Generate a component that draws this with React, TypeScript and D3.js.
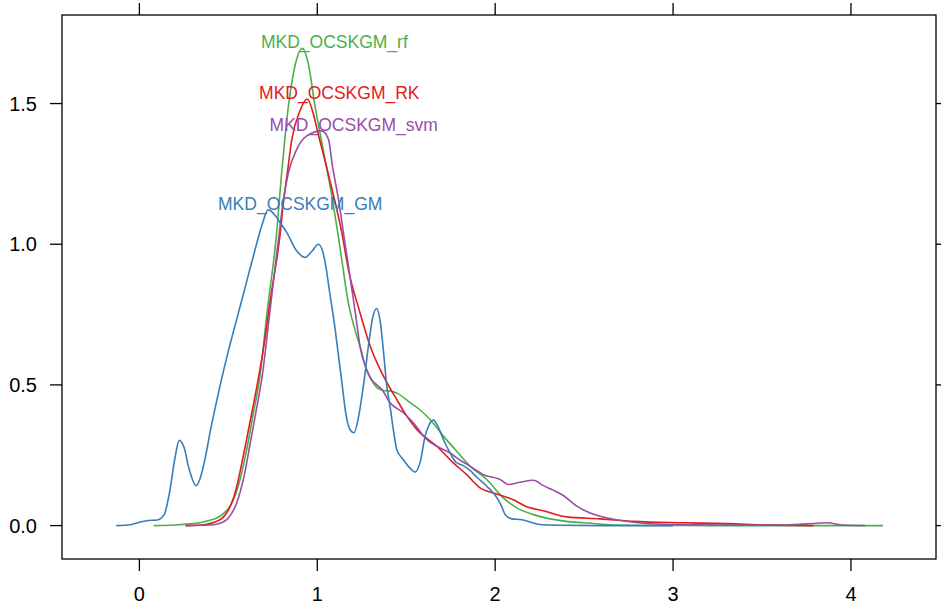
import React from "react";
import * as d3 from "d3";

// ---- data (x value, density) ----
const seriesNames = ["MKD_OCSKGM_rf", "MKD_OCSKGM_RK", "MKD_OCSKGM_svm", "MKD_OCSKGM_GM"];
const seriesColors = ["#4DAF4A", "#E41A1C", "#984EA3", "#377EB8"];

const rfPoints: [number, number][] = [
  [0.08, 0], [0.2, 0.002], [0.3, 0.007], [0.341, 0.01], [0.39, 0.018], [0.435, 0.027],
  [0.47, 0.042], [0.51, 0.069], [0.54, 0.11], [0.566, 0.164], [0.6, 0.26], [0.641, 0.4],
  [0.675, 0.519], [0.72, 0.77], [0.768, 1.017], [0.8, 1.255], [0.838, 1.492], [0.87, 1.62],
  [0.916, 1.696], [0.95, 1.64], [0.985, 1.5], [1.038, 1.32], [1.085, 1.16], [1.115, 1.041],
  [1.143, 0.922], [1.171, 0.804], [1.21, 0.7], [1.24, 0.638], [1.278, 0.55], [1.306, 0.515],
  [1.334, 0.491], [1.37, 0.48], [1.41, 0.478], [1.45, 0.47], [1.522, 0.437], [1.58, 0.41],
  [1.634, 0.377], [1.709, 0.318], [1.784, 0.264], [1.859, 0.211], [1.953, 0.164],
  [2.037, 0.104], [2.121, 0.063], [2.215, 0.039], [2.309, 0.024], [2.4, 0.015], [2.496, 0.01],
  [2.6, 0.005], [2.683, 0.002], [2.9, 0.0005], [3.2, 0], [4.18, 0],
];

const rkPoints: [number, number][] = [
  [0.26, 0], [0.35, 0.002], [0.42, 0.012], [0.472, 0.03], [0.5, 0.055], [0.53, 0.1],
  [0.555, 0.16], [0.585, 0.25], [0.61, 0.33], [0.635, 0.41], [0.665, 0.51], [0.7, 0.64],
  [0.74, 0.82], [0.772, 0.946], [0.79, 1.03], [0.81, 1.15], [0.832, 1.255], [0.857, 1.373],
  [0.9, 1.47], [0.944, 1.516], [0.975, 1.47], [1.003, 1.397], [1.05, 1.28], [1.096, 1.16],
  [1.138, 1.041], [1.175, 0.91], [1.24, 0.757], [1.297, 0.638], [1.372, 0.531], [1.447, 0.448],
  [1.503, 0.389], [1.559, 0.342], [1.672, 0.282], [1.765, 0.223], [1.84, 0.181], [1.915, 0.134],
  [1.99, 0.116], [2.102, 0.092], [2.177, 0.067], [2.271, 0.053], [2.402, 0.031], [2.59, 0.024],
  [2.777, 0.015], [3.058, 0.01], [3.302, 0.007], [3.527, 0.002], [3.79, 0],
];

const svmPoints: [number, number][] = [
  [0.26, 0], [0.35, 0.001], [0.416, 0.003], [0.46, 0.01], [0.491, 0.021], [0.515, 0.04],
  [0.547, 0.08], [0.59, 0.18], [0.625, 0.3], [0.66, 0.42], [0.69, 0.53], [0.73, 0.74],
  [0.768, 0.946], [0.782, 1.017], [0.81, 1.16], [0.838, 1.255], [0.885, 1.338], [0.941, 1.385],
  [1.025, 1.403], [1.063, 1.373], [1.085, 1.279], [1.119, 1.16], [1.147, 1.041], [1.175, 0.922],
  [1.203, 0.804], [1.222, 0.72], [1.24, 0.638], [1.278, 0.555], [1.306, 0.519], [1.335, 0.5],
  [1.363, 0.484], [1.409, 0.437], [1.484, 0.401], [1.54, 0.365], [1.615, 0.306], [1.69, 0.276],
  [1.746, 0.259], [1.784, 0.241], [1.859, 0.211], [1.934, 0.181], [2.028, 0.164], [2.074, 0.146],
  [2.14, 0.154], [2.215, 0.161], [2.271, 0.142], [2.327, 0.126], [2.383, 0.107], [2.459, 0.069],
  [2.534, 0.045], [2.646, 0.025], [2.777, 0.012], [2.965, 0.004], [3.3, 0.002], [3.62, 0.002],
  [3.75, 0.006], [3.864, 0.01], [3.958, 0.002], [4.08, 0],
];

const gmPoints: [number, number][] = [
  [-0.13, 0], [-0.05, 0.003], [0.0, 0.012], [0.05, 0.018], [0.1, 0.02], [0.14, 0.04],
  [0.17, 0.12], [0.2, 0.24], [0.224, 0.303], [0.25, 0.28], [0.28, 0.2], [0.319, 0.142],
  [0.34, 0.165], [0.37, 0.24], [0.4, 0.34], [0.43, 0.43], [0.46, 0.515], [0.5, 0.62],
  [0.55, 0.74], [0.6, 0.86], [0.65, 0.98], [0.69, 1.07], [0.724, 1.122], [0.76, 1.105],
  [0.791, 1.077], [0.828, 1.042], [0.885, 0.976], [0.931, 0.953], [0.97, 0.975], [1.006, 1.0],
  [1.03, 0.975], [1.048, 0.922], [1.067, 0.84], [1.1, 0.7], [1.12, 0.6], [1.14, 0.5],
  [1.16, 0.4], [1.185, 0.34], [1.207, 0.33], [1.23, 0.38], [1.26, 0.5], [1.29, 0.65],
  [1.31, 0.735], [1.334, 0.771], [1.355, 0.72], [1.375, 0.6], [1.39, 0.5], [1.41, 0.42],
  [1.43, 0.33], [1.447, 0.27], [1.483, 0.235], [1.52, 0.205], [1.55, 0.19], [1.58, 0.23],
  [1.606, 0.318], [1.63, 0.36], [1.653, 0.375], [1.68, 0.35], [1.709, 0.306], [1.745, 0.26],
  [1.78, 0.225], [1.82, 0.213], [1.86, 0.195], [1.9, 0.17], [1.953, 0.14], [2.009, 0.1],
  [2.035, 0.07], [2.056, 0.039], [2.093, 0.024], [2.15, 0.021], [2.2, 0.012], [2.25, 0.004],
  [2.35, 0.001], [2.6, 0], [3.0, 0],
];

const seriesPoints = [rfPoints, rkPoints, svmPoints, gmPoints];

const xTicks = [0, 1, 2, 3, 4];
const yTicks = [0.0, 0.5, 1.0, 1.5];
const xDomain: [number, number] = [-0.435, 4.478];

// ---- layout ----
const W = 941;
const H = 606;
const left = 62;
const right = 936;
const top = 15;
const bottom = 559;
const tickLen = 12;
const FONT = "'Liberation Sans', Arial, Helvetica, sans-serif";

export default function App() {
  const yMax = d3.max(seriesPoints.flat(), (p) => p[1]) as number;
  const yMin = 0;
  const pad = (yMax - yMin) * 0.07;
  const x = d3.scaleLinear().domain(xDomain).range([left, right]);
  const y = d3.scaleLinear().domain([yMin - pad, yMax + pad]).range([bottom, top]);

  const line = d3
    .line<[number, number]>()
    .x((d) => x(d[0]))
    .y((d) => y(d[1]))
    .curve(d3.curveMonotoneX);

  return (
    <svg
      width={W}
      height={H}
      style={{ position: "absolute", left: 0, top: 0, background: "#fff" }}
      fontFamily={FONT}
    >
      <rect x={0} y={0} width={W} height={H} fill="#fff" />
      {/* curves */}
      {seriesPoints.map((pts, i) => (
        <path
          key={seriesNames[i]}
          d={line(pts) || ""}
          fill="none"
          stroke={seriesColors[i]}
          strokeWidth={1.6}
          strokeLinejoin="round"
        />
      ))}
      {/* labels */}
      {seriesPoints.map((pts, i) => {
        const peak = pts.reduce((a, b) => (b[1] > a[1] ? b : a));
        return (
          <text
            key={"lab" + i}
            x={x(peak[0]) + 32}
            y={y(peak[1])}
            textAnchor="middle"
            fontSize={17.5}
            fill={seriesColors[i]}
          >
            {seriesNames[i]}
          </text>
        );
      })}
      {/* frame */}
      <rect
        x={left}
        y={top}
        width={right - left}
        height={bottom - top}
        fill="none"
        stroke="#000"
        strokeWidth={1.3}
      />
      {/* x ticks */}
      {xTicks.map((t) => (
        <g key={"xt" + t}>
          <line x1={x(t)} x2={x(t)} y1={bottom} y2={bottom + tickLen} stroke="#000" strokeWidth={1.3} />
          <line x1={x(t)} x2={x(t)} y1={top} y2={top - tickLen} stroke="#000" strokeWidth={1.3} />
          <text x={x(t)} y={601} textAnchor="middle" fontSize={20} fill="#000">
            {String(t)}
          </text>
        </g>
      ))}
      {/* y ticks */}
      {yTicks.map((t) => (
        <g key={"yt" + t}>
          <line x1={left} x2={left - tickLen} y1={y(t)} y2={y(t)} stroke="#000" strokeWidth={1.3} />
          <line x1={right} x2={right + tickLen} y1={y(t)} y2={y(t)} stroke="#000" strokeWidth={1.3} />
          <text x={37} y={y(t)} dy="0.36em" textAnchor="end" fontSize={20} fill="#000">
            {t.toFixed(1)}
          </text>
        </g>
      ))}
    </svg>
  );
}
